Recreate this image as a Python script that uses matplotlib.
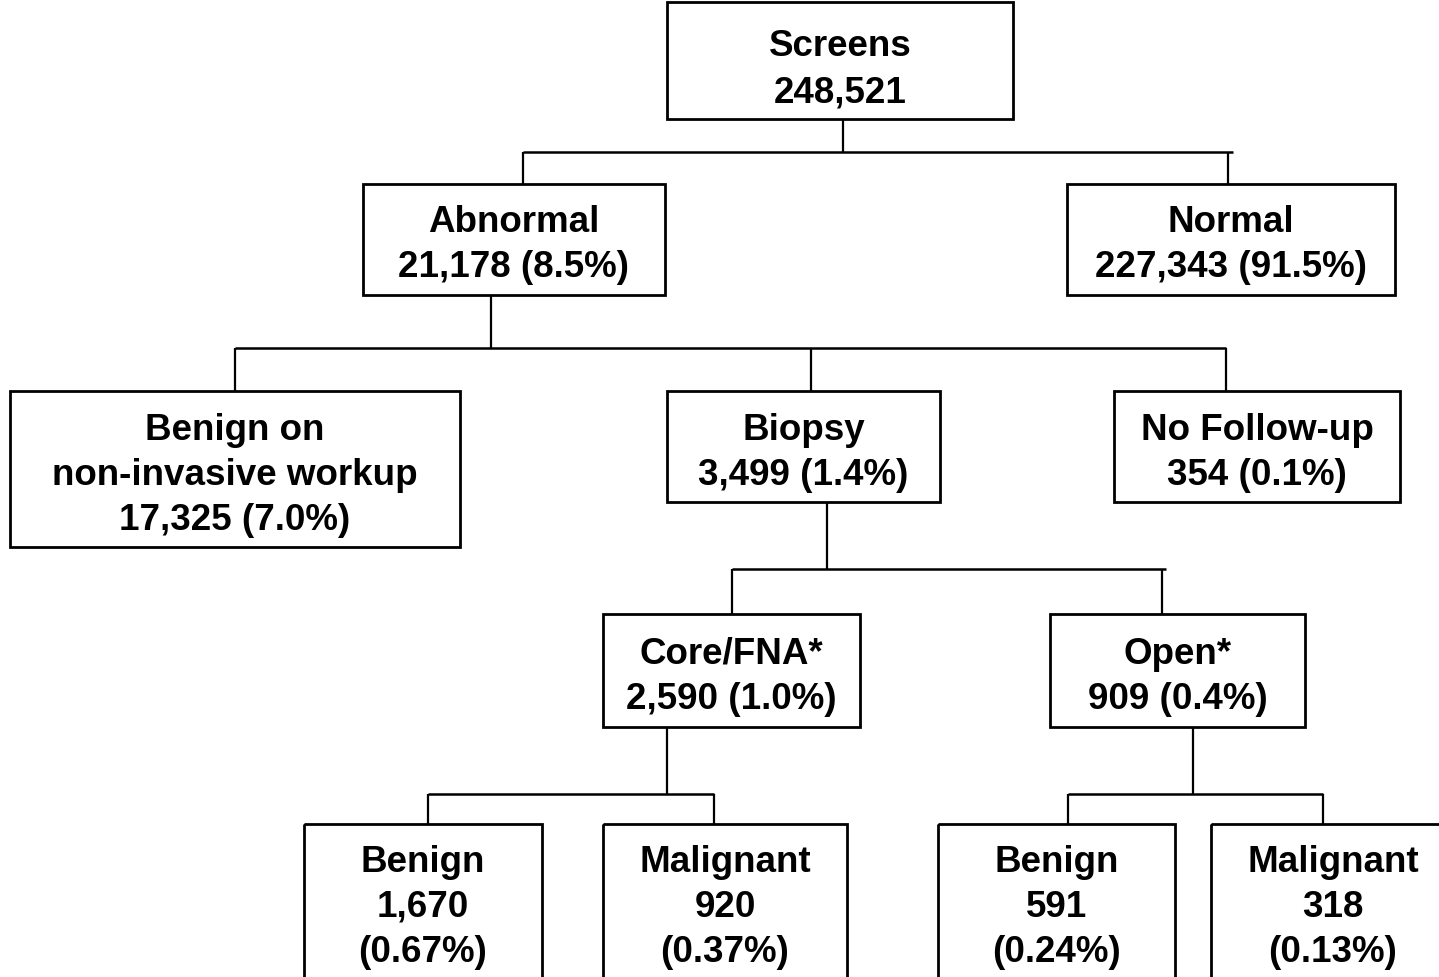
import matplotlib
matplotlib.use("Agg")
import matplotlib.pyplot as plt
from matplotlib.patches import Rectangle

plt.rcParams['font.family'] = ['Liberation Sans', 'DejaVu Sans']

# ---- data (node texts) ----
node_names = ["screens", "abnormal", "normal", "benign_ni", "biopsy", "nofollow",
              "core", "open", "core_benign", "core_malig", "open_benign", "open_malig"]
node_labels = [
    "Screens\n248,521",
    "Abnormal\n21,178 (8.5%)",
    "Normal\n227,343 (91.5%)",
    "Benign on\nnon-invasive workup\n17,325 (7.0%)",
    "Biopsy\n3,499 (1.4%)",
    "No Follow-up\n354 (0.1%)",
    "Core/FNA*\n2,590 (1.0%)",
    "Open*\n909 (0.4%)",
    "Benign\n1,670\n(0.67%)",
    "Malignant\n920\n(0.37%)",
    "Benign\n591\n(0.24%)",
    "Malignant\n318\n(0.13%)",
]

# ---- layout (pixel coordinates: x0, x1, y0, y1) ----
boxes = {
    "screens":     (667, 1013, 3, 120),
    "abnormal":    (363, 665, 185, 296),
    "normal":      (1067, 1395, 185, 296),
    "benign_ni":   (10, 460, 392, 548),
    "biopsy":      (667, 940, 392, 503),
    "nofollow":    (1114, 1400, 392, 503),
    "core":        (603, 860, 615, 728),
    "open":        (1050, 1305, 615, 728),
    "core_benign": (304, 542, 825, 1000),
    "core_malig":  (603, 847, 825, 1000),
    "open_benign": (938, 1175, 825, 1000),
    "open_malig":  (1211, 1460, 825, 1000),
}
# text first-line y and line spacing
text_y = {
    "screens": 47, "abnormal": 222, "normal": 222, "benign_ni": 430, "biopsy": 430,
    "nofollow": 430, "core": 654, "open": 654, "core_benign": 862, "core_malig": 862,
    "open_benign": 862, "open_malig": 862,
}
text_x = {"open_malig": 1333}
line_gap = 45.5

# connectors: (parent x, parent bottom, bar y, child xs, bar x-range, child top)
connectors = [
    (843, 120, 153, [523, 1228], (523, 1233), 185),
    (491, 296, 349, [235, 811, 1226], (235, 1226), 392),
    (827, 503, 570, [732, 1162], (732, 1166), 615),
    (667, 728, 795, [428, 714], (428, 714), 825),
    (1193, 728, 795, [1068, 1323], (1068, 1323), 825),
]

W, H = 1439, 978
fig = plt.figure(figsize=(W / 100, H / 100), dpi=100)
ax = fig.add_axes([0, 0, 1, 1])
ax.set_xlim(0, W)
ax.set_ylim(H, 0)
ax.axis("off")

for name, label in zip(node_names, node_labels):
    x0, x1, y0, y1 = boxes[name]
    ax.add_patch(Rectangle((x0, y0), x1 - x0, y1 - y0, fill=False,
                           edgecolor="black", linewidth=2.0, clip_on=True))
    cx = text_x.get(name, (x0 + x1) / 2)
    for i, line in enumerate(label.split("\n")):
        ax.text(cx, text_y[name] + i * line_gap, line, ha="center", va="center",
                fontsize=26.5, fontweight="bold", color="black")

for px, pbot, bary, cxs, (bx0, bx1), ctop in connectors:
    ax.plot([px, px], [pbot, bary], color="black", lw=1.6, solid_capstyle="butt")
    ax.plot([bx0, bx1], [bary, bary], color="black", lw=1.8, solid_capstyle="butt")
    for cx in cxs:
        ax.plot([cx, cx], [bary, ctop], color="black", lw=1.6, solid_capstyle="butt")

fig.savefig("out.png", dpi=100, facecolor="white")
